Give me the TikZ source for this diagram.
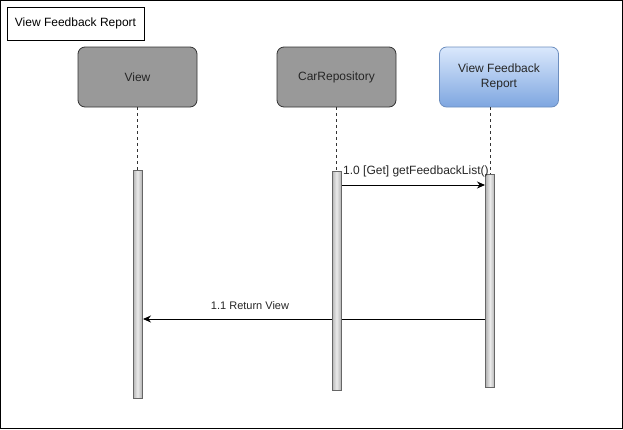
\documentclass[tikz,border=0pt]{standalone}
\usepackage{fontspec}
\setmainfont{Liberation Sans}
\usetikzlibrary{arrows.meta}
\definecolor{hdgray}{HTML}{999999}
\definecolor{hdborder}{HTML}{333333}
\definecolor{bluetop}{HTML}{DAE8FC}
\definecolor{bluebot}{HTML}{7EA6E0}
\definecolor{blueborder}{HTML}{6C8EBF}
\definecolor{barborder}{HTML}{666666}
\definecolor{baredge}{HTML}{B3B3B3}
\tikzset{
  head/.style={draw=hdborder, fill=hdgray, rounded corners=7pt, line width=0.8pt,
    minimum width=119pt, minimum height=60pt, inner sep=0pt, align=center,
    font=\fontsize{12}{14}\selectfont, text=black!85},
  bluehead/.style={head, draw=blueborder, fill=none, top color=bluetop, bottom color=bluebot},
  actbar/.style={draw=barborder, line width=0.8pt, left color=baredge, right color=baredge, middle color=white!92!black},
  life/.style={draw=black!80, dash pattern=on 3pt off 3pt, line width=0.8pt},
  msg/.style={draw=black, line width=0.9pt, -{Stealth[length=8pt,width=7pt]}},
  lbl/.style={font=\fontsize{11}{13}\selectfont, text=black!85, inner sep=0pt},
}
\begin{document}
\begin{tikzpicture}[x=1pt,y=-1pt]
\useasboundingbox (0,0) rectangle (623,429);
\draw[line width=1pt] (0.5,0.5) rectangle (622.5,428.5);
\node[draw, line width=1pt, minimum width=137pt, minimum height=33pt, inner sep=0pt,
  font=\fontsize{12}{14}\selectfont] (title) at (75.5,23.5) {View Feedback Report};

\node[head] (view) at (137.5,77) {View};
\node[head] (repo) at (336.5,77) {CarRepository};
\node[bluehead] (vfr) at (499,77) {View Feedback\\[1pt]Report};

\coordinate (viewtop) at (137.5,170);
\coordinate (repotop) at (336.5,171);
\coordinate (vfrtop) at (490,174);
\draw[life] (view.south) -- (viewtop);
\draw[life] (repo.south) -- (repotop);
\draw[life] (vfr.south -| vfrtop) -- (vfrtop);

\coordinate (m2s) at (486,319);
\coordinate (m2e) at (143,319);
\draw[msg] (m2s) -- (m2e);

\path[actbar] (133,170) rectangle (142,398);
\node[inner sep=0pt, minimum width=9pt, minimum height=228pt] (viewbar) at (137.5,284) {};
\path[actbar] (332,171) rectangle (341,390);
\node[inner sep=0pt, minimum width=9pt, minimum height=219pt] (repobar) at (336.5,280.5) {};
\path[actbar] (485.5,174) rectangle (494.5,387);
\node[inner sep=0pt, minimum width=9pt, minimum height=213pt] (vfrbar) at (490,280.5) {};

\coordinate (m1s) at (342,185);
\coordinate (m1e) at (485,185);
\draw[msg] (m1s) -- (m1e);
\node[lbl, font=\fontsize{12}{14}\selectfont, anchor=west] (l1) at (343,171) {1.0 [Get] getFeedbackList()};
\node[lbl] (l2) at (250,306) {1.1 Return View};
\end{tikzpicture}
\end{document}
